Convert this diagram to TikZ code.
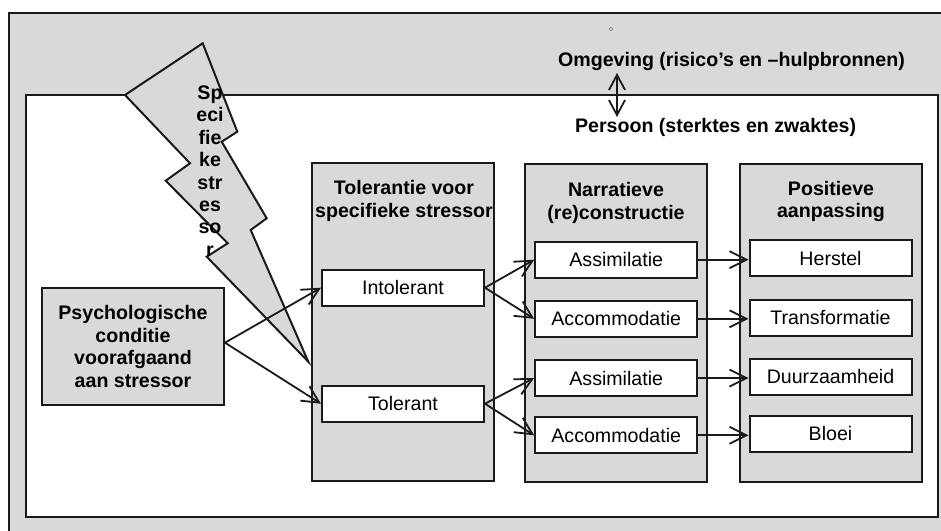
\documentclass[tikz,border=0pt]{standalone}
\usepackage{fontspec}
\setmainfont{Liberation Sans}
\usetikzlibrary{arrows.meta}
\definecolor{bg}{HTML}{D9D9D9}
\definecolor{ln}{HTML}{1A1A1A}
\begin{document}
\begin{tikzpicture}[x=1pt,y=-1pt,
  every node/.style={font=\fontsize{19.6}{22.5}\selectfont},
  frame/.style={draw=ln,line width=2pt},
  colbox/.style={frame,fill=bg,inner sep=0pt,minimum width=182pt,minimum height=318pt},
  itembox/.style={frame,fill=white,inner sep=0pt,minimum width=162pt,minimum height=36pt},
  ttl/.style={font=\fontsize{19.6}{22.5}\selectfont\bfseries,align=center,inner sep=0pt},
  arr/.style={draw=ln,line width=1.8pt,-{Straight Barb[length=17pt,width=17pt,line width=1.8pt]}},
  dbl/.style={draw=ln,line width=1.8pt,{Straight Barb[length=15pt,width=16pt,line width=1.8pt]}-{Straight Barb[length=15pt,width=16pt,line width=1.8pt]}},
]
\useasboundingbox (0,0) rectangle (941,530);
\clip (0,0) rectangle (941,530);
% frames
\draw[frame,fill=bg] (9,13) rectangle (960,560);
\draw[frame,fill=white] (26,95) rectangle (938,517);
\draw[gray,line width=0.5pt] (611,29) circle (1.8pt);
% lightning bolt
\draw[frame,fill=bg,line join=miter] (202.7,43.3) -- (237.3,131.7) -- (221.7,141.7) -- (266.7,218.3)
  -- (250.7,230) -- (308.3,361.7) -- (206.7,256.7) -- (227.7,243.3) -- (165.7,180.7)
  -- (190,163.3) -- (125,95) -- cycle;
\node[ttl,font=\fontsize{19.6}{22.4}\selectfont\bfseries] (bolt) at (210,171) {Sp\\eci\\fie\\ke\\str\\es\\so\\r};
% environment labels
\node[ttl] (omg) at (731.5,61) {Omgeving (risico’s en –hulpbronnen)};
\node[ttl] (pers) at (715.6,127) {Persoon (sterktes en zwaktes)};
\coordinate (u1) at (617,73);
\coordinate (u2) at (617,117);
\draw[dbl] (u1) -- (u2);
% psych box
\node[frame,fill=bg,inner sep=0pt,minimum width=182pt,minimum height=117pt,ttl] (psy) at (133,346.7)
  {Psychologische\\conditie\\voorafgaand\\aan stressor};
% columns
\node[colbox] (c1) at (403,322) {};
\node[colbox] (c2) at (616,323) {};
\node[colbox] (c3) at (831,323) {};
\node[ttl] (t1) at (404,201) {Tolerantie voor\\specifieke stressor};
\node[ttl] (t2) at (616,203) {Narratieve\\(re)constructie};
\node[ttl] (t3) at (831,201.3) {Positieve\\aanpassing};
% items
\node[itembox] (int) at (403,287.7) {Intolerant};
\node[itembox] (tol) at (403,403.7) {Tolerant};
\node[itembox] (a1) at (616.2,259.7) {Assimilatie};
\node[itembox] (m1) at (616.2,318.8) {Accommodatie};
\node[itembox] (a2) at (616.2,378) {Assimilatie};
\node[itembox] (m2) at (616.2,435.3) {Accommodatie};
\node[itembox] (h) at (830.5,258.3) {Herstel};
\node[itembox] (tr) at (830.5,317.5) {Transformatie};
\node[itembox] (du) at (830.5,376.7) {Duurzaamheid};
\node[itembox] (bl) at (830.5,433.7) {Bloei};
% arrows
\draw[arr] ([yshift=4pt]psy.east) -- (int.west);
\draw[arr] ([yshift=4pt]psy.east) -- (tol.west);
\draw[arr] (int.east) -- (a1.west);
\draw[arr] (int.east) -- (m1.west);
\draw[arr] (tol.east) -- (a2.west);
\draw[arr] (tol.east) -- (m2.west);
\draw[arr] (a1.east) -- (a1.east -| h.west);
\draw[arr] (m1.east) -- (m1.east -| tr.west);
\draw[arr] (a2.east) -- (a2.east -| du.west);
\draw[arr] (m2.east) -- (m2.east -| bl.west);
\end{tikzpicture}
\end{document}
